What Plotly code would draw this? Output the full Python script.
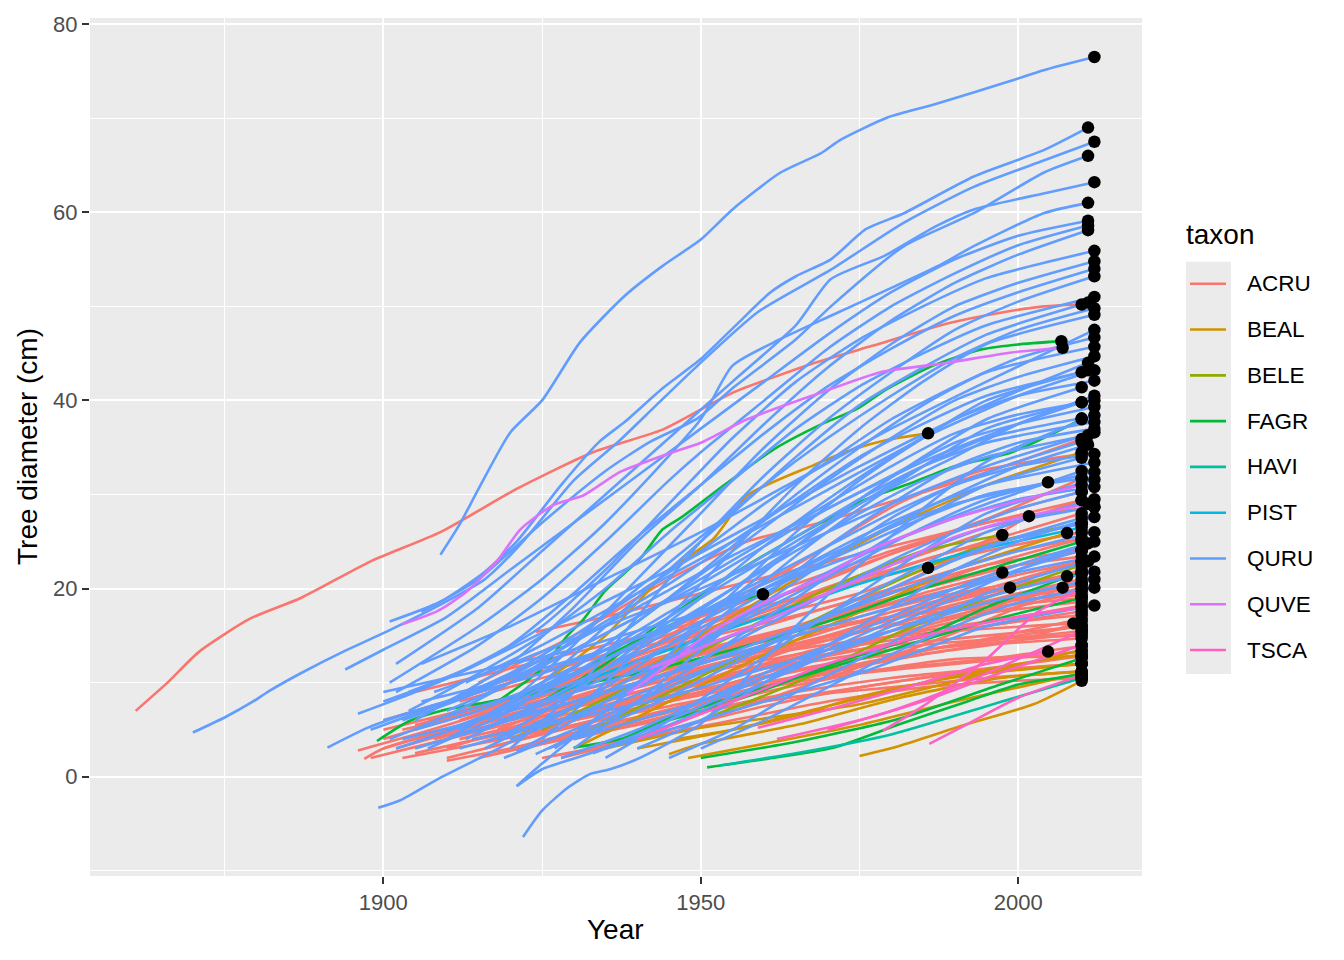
import plotly.graph_objects as go

# ==========================================
# Data: reconstructed diameter tracks, (year, diameter cm) vertices per tree
# ==========================================

taxa = ["ACRU", "BEAL", "BELE", "FAGR", "HAVI", "PIST", "QURU", "QUVE", "TSCA"]

taxon_colors = {
    "ACRU": "#F8766D", "BEAL": "#D39200", "BELE": "#93AA00",
    "FAGR": "#00BA38", "HAVI": "#00C19F", "PIST": "#00B9E3",
    "QURU": "#619CFF", "QUVE": "#DB72FB", "TSCA": "#FF61C3",
}

acru_trees = [
    [(1861, 7.0), (1866, 10.0), (1871, 13.3), (1879, 16.8), (1887, 19.0), (1898, 22.9), (1909, 26.0),
     (1921, 30.6), (1933, 34.5), (1944, 36.9), (1955, 40.8), (1968, 44.0), (1977, 45.8), (1989, 48.2),
     (1997, 49.3), (2004, 50.0), (2010, 50.2)],
    [(1896, 2.8), (1905, 4.5), (1915, 6.5), (1925, 8.5), (1935, 10.5), (1950, 13), (1965, 16), (1980, 19), (1995, 22.5), (2010, 25.3)],
    [(1897, 1.9), (1900, 3), (1910, 5), (1925, 7.5), (1940, 10), (1955, 12.5), (1970, 15), (1985, 17.5), (2000, 20), (2010, 22)],
    [(1900, 3), (1910, 5), (1920, 7), (1935, 9), (1950, 11), (1965, 13), (1980, 14.5), (1995, 16), (2010, 17.6)],
    [(1903, 5), (1915, 7), (1925, 9.5), (1935, 12), (1950, 15.5), (1965, 19), (1980, 22.5), (1995, 26), (2010, 29.4)],
    [(1905, 2.5), (1915, 4), (1930, 6), (1945, 8), (1960, 10), (1975, 12), (1990, 14), (2010, 16.0)],
    [(1908, 4), (1920, 6), (1935, 8.5), (1950, 11.5), (1965, 14.5), (1980, 17.5), (1995, 20), (2010, 22.9)],
    [(1910, 3), (1920, 5), (1935, 7), (1950, 9), (1965, 10.5), (1980, 11.5), (1995, 12.5), (2010, 13.9)],
    [(1912, 6), (1925, 9), (1940, 12.5), (1955, 16), (1970, 19.5), (1985, 23), (2000, 26), (2010, 28)],
    [(1915, 2), (1925, 3.5), (1940, 5.5), (1955, 7.5), (1970, 9), (1985, 10.5), (2000, 11.5), (2010, 12.0)],
    [(1918, 5), (1930, 8), (1945, 11), (1960, 14), (1975, 17), (1990, 19.5), (2010, 21.6)],
    [(1920, 8), (1930, 10.5), (1945, 14), (1960, 17.5), (1975, 21), (1990, 24), (2010, 26.9)],
    [(1922, 3), (1935, 5), (1950, 7), (1965, 8.5), (1980, 9.5), (1995, 10.5), (2010, 11.2)],
    [(1925, 5), (1935, 7), (1950, 10), (1965, 13), (1980, 15.5), (1995, 18), (2010, 20.5)],
    [(1900, 6), (1910, 8), (1925, 11), (1940, 14), (1955, 17.5), (1970, 21), (1985, 25), (2000, 28.5), (2010, 30.3)],
    [(1905, 7), (1920, 10), (1935, 13.5), (1950, 17), (1965, 20.5), (1980, 24), (1995, 27), (2012, 28.7)],
    [(1910, 5), (1925, 7), (1940, 9.5), (1955, 12), (1970, 14.5), (1985, 17), (2000, 19), (2010, 20.5)],
    [(1928, 2), (1940, 4), (1955, 6), (1970, 8), (1985, 9.5), (2000, 10.2), (2010, 10.5)],
    [(1930, 4), (1945, 6.5), (1960, 9), (1975, 11), (1990, 12.5), (2010, 12.8)],
    [(1935, 6), (1945, 8), (1960, 11), (1975, 14), (1990, 16.5), (2010, 19.7)],
    [(1902, 3), (1915, 5.5), (1930, 8), (1945, 10.5), (1960, 13), (1975, 14.5), (1990, 15.5), (2008.7, 16.3)],
    [(1907, 6), (1920, 8.5), (1935, 11), (1950, 13.5), (1965, 16), (1980, 18.5), (1998.7, 20.1)],
    [(1913, 7), (1925, 9), (1940, 11.5), (1955, 14), (1970, 16.5), (1985, 19.5), (1997.5, 21.7)],
    [(1918, 10), (1930, 12), (1945, 14.5), (1960, 17), (1975, 19.5), (1985.8, 22.2)],
    [(1920, 4), (1935, 7), (1950, 11), (1965, 15.5), (1980, 20), (1992, 24), (2001.7, 27.7)],
    [(1925, 2), (1940, 4), (1955, 7), (1970, 10.5), (1985, 14), (2000, 18), (2007, 20.1)],
    [(1930, 6), (1945, 9), (1960, 12.5), (1975, 16), (1990, 19), (2007.7, 21.3)],
    [(1915, 7), (1930, 10.5), (1945, 14.5), (1960, 18.5), (1975, 22.5), (1990, 26), (2010, 31.7)],
    [(1915, 10), (1930, 15), (1945, 21), (1957.3, 25), (1967.7, 26.8), (1978.3, 28.9), (1988.8, 31), (2000, 33.5), (2010, 35.9)],
    [(1920, 6), (1935, 11), (1950, 17), (1965, 22.5), (1981, 29), (1994, 32.5), (2010, 34.3)],
    [(1905, 4), (1920, 6.5), (1935, 9.5), (1950, 12.5), (1965, 16), (1980, 19.5), (1995, 22.5), (2010, 24.1)],
    [(1910, 2), (1925, 4.5), (1940, 7), (1955, 10), (1970, 13), (1985, 16), (2000, 18.5), (2010, 20.1)],
    [(1925, 7), (1940, 10), (1955, 13.5), (1970, 17), (1985, 20), (2000, 22.5), (2010, 23.4)],
    [(1900, 5), (1915, 7.5), (1930, 10), (1945, 12.5), (1960, 15), (1975, 17.5), (1990, 20), (2010, 22.9)],
    [(1932, 3), (1945, 5), (1960, 7.5), (1975, 9.5), (1990, 11), (2010, 12.0)],
    [(1905, 9), (1920, 11.5), (1935, 14), (1950, 16.5), (1965, 19), (1980, 21.5), (1995, 24), (2010, 26.0)],
    [(1912, 4), (1925, 6), (1940, 8.5), (1955, 11), (1970, 13.5), (1985, 15.5), (2000, 17), (2010, 18.2)],
    [(1922, 5), (1935, 7.5), (1950, 10), (1965, 12.5), (1980, 14), (1995, 15), (2010, 16.0)],
    [(1903, 2), (1915, 3.5), (1930, 5.5), (1945, 7.5), (1960, 9.5), (1975, 11), (1990, 12), (2010, 13.3)],
    [(1898, 2), (1910, 4), (1925, 6.5), (1940, 9), (1955, 12), (1970, 14.5), (1985, 17), (2000, 19.5), (2010, 21.0)],
    [(1924, 15.4), (1935, 17), (1950, 19.5), (1965, 22), (1980, 24.5), (1995, 27), (2010, 29.4)],
    [(1910, 1.7), (1920, 3), (1935, 5), (1950, 7), (1965, 9), (1980, 10.5), (1995, 11.5), (2010, 12.8)],
    [(1915, 4), (1928, 7), (1940, 9), (1955, 11), (1970, 12.5), (1985, 14), (2000, 14.8), (2010, 15.0)],
    [(1930, 5), (1945, 7), (1960, 9.5), (1975, 12), (1990, 14), (2010, 15.5)],
    [(1920, 3), (1935, 5.5), (1950, 8), (1965, 10.5), (1980, 12.5), (1995, 14), (2010, 14.7)],
    [(1908, 6), (1920, 8), (1935, 10.5), (1950, 13), (1965, 15.5), (1980, 17), (1995, 18), (2010, 19.0)],
    [(1935, 8), (1950, 11), (1965, 14), (1980, 17), (1995, 19.5), (2010, 21.6)],
    [(1900, 4), (1910, 6), (1925, 9), (1940, 12), (1955, 15), (1970, 18), (1985, 21), (2000, 24), (2010, 25.3)],
    [(1926, 4), (1940, 6), (1955, 8.5), (1970, 11), (1985, 13), (2000, 14.5), (2010, 16.5)],
    [(1927, 6), (1940, 8), (1955, 10), (1970, 12), (1985, 13.5), (2000, 14.5), (2010, 15.2)],
    [(1905, 5.5), (1920, 8), (1935, 10.5), (1950, 13), (1965, 15), (1980, 17), (1995, 18.5), (2010, 19.3)],
    [(1916, 3), (1930, 5.5), (1945, 8), (1960, 10.5), (1975, 12.5), (1990, 14), (2010, 16.8)],
    [(1912, 8), (1925, 10.5), (1940, 13), (1955, 15.5), (1970, 18), (1985, 20.5), (2000, 22.5), (2010, 24.0)],
    [(1933, 7), (1945, 9), (1960, 11.5), (1975, 13.5), (1990, 15.5), (2000, 16.5), (2010, 17.2)],
    [(1918, 7), (1930, 9), (1945, 11.5), (1960, 13.5), (1975, 15.5), (1990, 17), (2010, 18.6)],
]

beal_trees = [
    [(1915, 7), (1925, 10), (1935, 15), (1944.7, 21.8), (1952, 25.3), (1957.3, 29.9), (1967.7, 33.1), (1974, 34.8), (1979.3, 35.8), (1985.8, 36.5)],
    [(1945, 2.4), (1950, 3.5), (1965.7, 5.6), (1981.4, 8.4), (1997.2, 10.5), (2010, 11.2)],
    [(1946, 4), (1955, 5), (1965, 6.5), (1975, 8.5), (1985, 10), (1995, 11), (2010, 12)],
    [(1975, 2.2), (1981.4, 3.3), (1992, 5.6), (2002.4, 7.7), (2010, 10.2)],
    [(1935, 3), (1950, 5.2), (1975, 7.7), (1995, 11), (2010, 13.5)],
    [(1920, 4), (1935, 9), (1950, 15), (1965, 21), (1980, 26.5), (1995, 31), (2010, 34.5)],
    [(1930, 3), (1945, 8), (1960, 13), (1975, 17.5), (1990, 22), (2007.7, 25.9)],
    [(1948, 2), (1960, 3.5), (1975, 5.5), (1990, 8), (2000, 9.5), (2010, 11)],
    [(1940, 3), (1955, 5), (1970, 7.5), (1985, 10), (2000, 12), (2010, 13.0)],
]

bele_trees = [
    [(1925, 5), (1940, 10), (1955, 15), (1970, 20), (1985, 24), (1997.5, 25.7)],
    [(1930, 4), (1945, 9), (1960, 14), (1975, 19), (1990, 23.5), (2000, 25.5), (2010, 27)],
    [(1950, 6), (1965, 10), (1981.4, 15.4), (1995, 19), (2010, 22.5)],
]

fagr_trees = [
    [(1918, 8), (1925, 11.5), (1929, 15), (1931.5, 16.7), (1935, 19.8), (1940.5, 23.2), (1944, 26.3), (1947, 27.6),
     (1953.7, 31), (1961.5, 34.8), (1968.8, 37.4), (1974.6, 39.1), (1979.3, 41.2), (1986.6, 43.7), (1994, 45.4),
     (1999.2, 45.9), (2006.8, 46.3)],
    [(1899, 3.8), (1904, 5.9), (1909, 7), (1916, 7.9), (1925, 9), (1940, 11), (1955, 13.5), (1970, 16.5), (1985, 20), (2000, 23), (2010, 25)],
    [(1951, 1.0), (1960.4, 1.9), (1971, 3.1), (1981.4, 5.6), (1992, 8), (2000, 9.8), (2010, 10.9)],
    [(1950, 2.0), (1965.7, 3.8), (1981.4, 6.2), (1997.2, 9.8), (2010, 12.6)],
    [(1945, 6), (1955, 8), (1970.9, 12), (1986.6, 15.4), (1995, 18), (2010, 21.8)],
    [(1930, 3.1), (1937.8, 4.1), (1945, 6.2), (1951.5, 7.7), (1965, 10.5), (1980, 13.5), (1995, 16.5), (2010, 19)],
    [(1925, 8), (1935, 12), (1945, 17), (1955, 21.5), (1965, 25.5), (1975, 29.2), (1983.5, 31.3), (1990, 33), (1999, 34.5), (2010, 38)],
    [(1920, 8), (1930, 11), (1940, 14.5), (1950, 17.5), (1959.8, 19.4)],
]

havi_trees = [
    [(1953, 1.2), (1965, 2.5), (1980, 4.5), (1995, 7.5), (2000, 8.5), (2010, 10.5)],
]

pist_trees = [
    [(1925, 8), (1935, 11), (1945, 13.5), (1960, 17), (1975, 20.5), (1990, 23.5), (2010, 26.5)],
]

quru_trees = [
    [(1909, 23.6), (1912, 26.8), (1915, 30.6), (1920, 36.6), (1925, 40), (1931, 46.2), (1938, 51.1), (1944, 54.3),
     (1950, 57.1), (1955, 60.3), (1962.5, 64.2), (1969, 66.3), (1972, 67.7), (1979.5, 70.1), (1987, 71.5),
     (1999, 74), (2004, 75.1), (2012, 76.5)],
    [(1901, 16.5), (1909, 18.6), (1916, 21.8), (1921, 25), (1928, 31), (1934, 35.6), (1938, 37.7), (1944, 41.3),
     (1950, 44.4), (1956, 48.3), (1961, 51.5), (1965, 53.2), (1970.5, 55), (1976, 58.2), (1982, 59.9), (1993, 63.8),
     (2004, 66.6), (2011, 69.0)],
    [(1870, 4.7), (1875, 6.3), (1879.5, 8), (1882, 9.1), (1887, 11), (1893.7, 13.3), (1899.5, 15.1), (1909, 18.3),
     (1916, 21), (1922, 25), (1930, 31.5), (1937, 35.6), (1943, 39.5), (1949.5, 43.7), (1959, 49.4), (1970.5, 53.9),
     (1982, 58.9), (1993, 62.7), (2004, 65.5), (2012, 67.5)],
    [(1906, 17.5), (1915, 21), (1925, 27), (1935, 32.5), (1942, 35.6), (1949.5, 38.1), (1955, 41.3), (1965, 46.5),
     (1970.5, 50), (1982, 56.4), (1993, 59.9), (2004, 64.2), (2011, 66.0)],
    [(1902, 12), (1915, 18), (1925, 24), (1935, 30), (1945, 36), (1955, 42), (1965, 48), (1970.5, 52.9),
     (1979, 55.4), (1987, 58.5), (1993, 60.3), (2004, 62), (2012, 63.2)],
    [(1901, 10), (1915, 16), (1925, 21), (1935, 27), (1950, 38), (1955, 43.7), (1962.5, 46.5), (1970.5, 49),
     (1979.5, 51.8), (1987.4, 54.3), (1993, 56.4), (2004, 59.9), (2011, 61.0)],
    [(1894, 11.4), (1900, 13.5), (1910, 17), (1920, 22), (1930, 27), (1940, 32), (1950, 37), (1960, 42), (1970, 47), (1980, 51.5), (1990, 55), (2000, 57.5), (2011, 59.1)],
    [(1902, 9), (1915, 14), (1925, 19), (1935, 25), (1945, 31.5), (1950, 34.5), (1960, 40), (1970, 45.5), (1980, 50), (1990, 53.5), (2000, 56.5), (2011, 58.6)],
    [(1905, 6), (1920, 12), (1930, 18), (1940, 25), (1950, 31), (1960, 37.5), (1970, 43.5), (1980, 48.5), (1990, 52.5), (2000, 55.5), (2011, 58.1)],
    [(1896, 6.7), (1905, 9), (1915, 12), (1925, 16), (1935, 22), (1945, 29), (1955, 36), (1965, 42), (1975, 46.5), (1985, 50), (1995, 53), (2012, 55.9)],
    [(1910, 4), (1920, 8), (1930, 14), (1940, 21), (1950, 28), (1960, 35), (1970, 41), (1980, 46), (1990, 50), (2000, 52.5), (2012, 54.8)],
    [(1900, 8), (1910, 10.5), (1920, 14), (1930, 19.5), (1940, 25.5), (1950, 31), (1960, 36.5), (1970, 41.5), (1980, 45.5), (1990, 49), (2000, 51.5), (2012, 54.0)],
    [(1920, 3), (1930, 9), (1940, 17), (1950, 25), (1960, 32), (1970, 38), (1980, 43), (1990, 47.5), (2000, 50.5), (2012, 53.2)],
    [(1904, 7), (1915, 11), (1925, 15), (1935, 20), (1945, 26), (1955, 31.5), (1965, 37), (1975, 41.5), (1985, 45), (1995, 48), (2012, 51.0)],
    [(1912, 5), (1925, 10), (1935, 16), (1945, 22), (1955, 28), (1965, 34), (1975, 39.5), (1985, 43.5), (1995, 47), (2011, 50.4)],
    [(1901, 4), (1910, 6.5), (1920, 10), (1930, 14.5), (1940, 20), (1950, 25.5), (1960, 31), (1970, 36), (1980, 40.5), (1990, 44.5), (2000, 47.5), (2012, 49.8)],
    [(1925, 4), (1935, 10), (1945, 17), (1955, 24), (1965, 31), (1975, 37), (1985, 42), (1995, 46), (2012, 49.1)],
    [(1898, 5), (1910, 8), (1920, 11), (1930, 15), (1940, 19.5), (1950, 24), (1960, 29), (1970, 33.5), (1980, 38), (1990, 41.5), (2000, 44.5), (2012, 46.7)],
    [(1915, 6), (1925, 9.5), (1935, 14), (1945, 19), (1955, 24.5), (1965, 30), (1975, 35), (1985, 39.5), (1995, 43), (2012, 45.7)],
    [(1907, 3), (1920, 7), (1930, 11.5), (1940, 16.5), (1950, 21.5), (1960, 26.5), (1970, 31.5), (1980, 36), (1990, 40), (2000, 42.5), (2012, 44.7)],
    [(1921, -1), (1925, 1.4), (1935, 7), (1945, 13), (1955, 19.5), (1965, 26), (1975, 31.5), (1985, 36), (1995, 40), (2011, 43.2)],
    [(1903, 6), (1915, 9), (1925, 12.5), (1935, 16.5), (1945, 20.5), (1955, 25), (1965, 29.5), (1975, 34), (1985, 37.5), (1995, 40.5), (2010, 43.0)],
    [(1918, 4), (1930, 9), (1940, 14), (1950, 19), (1960, 24.5), (1970, 29.5), (1980, 34), (1990, 38), (2000, 40.5), (2012, 42.1)],
    [(1899.2, -3.3), (1902.7, -2.5), (1909, -0.1), (1916.4, 2.4), (1925, 5.5), (1935, 9.5), (1945, 14), (1955, 19), (1965, 24.5), (1975, 29.5), (1985, 34), (1995, 38), (2010, 41.4)],
    [(1910, 7), (1920, 10), (1930, 13.5), (1940, 17), (1950, 21), (1960, 25), (1970, 29), (1980, 33), (1990, 36.5), (2000, 38.5), (2012, 40.0)],
    [(1927, 3), (1935, 7), (1945, 12.5), (1955, 18), (1965, 23.5), (1975, 28.5), (1985, 33), (1995, 37), (2010, 39.8)],
    [(1900, 6), (1910, 8), (1920, 10.5), (1930, 13.5), (1940, 17), (1950, 20.5), (1960, 24.5), (1970, 28.5), (1980, 32), (1990, 35.5), (2000, 37.5), (2012, 39.3)],
    [(1922, -6.4), (1925, -3.6), (1929, -1.2), (1932.6, 0.3), (1935.7, 0.8), (1939.4, 1.7), (1944.7, 3.5), (1950, 5.6), (1955, 9), (1965, 16), (1975, 22.5), (1985, 28.5), (1995, 33.5), (2012, 38.4)],
    [(1913, 4), (1925, 8), (1935, 11.5), (1945, 15.5), (1955, 20), (1965, 24.5), (1975, 29), (1985, 33), (1995, 36), (2010, 38.1)],
    [(1905, 5), (1915, 7), (1925, 10), (1935, 13.5), (1945, 17.5), (1955, 21.5), (1965, 25.5), (1975, 29.5), (1985, 33), (1995, 35.5), (2012, 37.7)],
    [(1930, 3), (1940, 8), (1950, 13.5), (1960, 19), (1970, 24.5), (1980, 29), (1990, 33), (2000, 35.5), (2012, 37.0)],
    [(1902, 3), (1915, 6), (1925, 9), (1935, 12.5), (1945, 16), (1955, 20), (1965, 24), (1975, 28), (1985, 31.5), (1995, 34), (2011, 36.3)],
    [(1921, 2.7), (1930, 6), (1940, 10), (1950, 14), (1960, 18.5), (1970, 23), (1980, 27.5), (1990, 31), (2000, 33.5), (2010, 35.6)],
    [(1908, 6), (1920, 8.5), (1930, 11), (1940, 14), (1950, 17.5), (1960, 21), (1970, 24.5), (1980, 28), (1990, 31), (2000, 33), (2012, 34.3)],
    [(1924, 2.4), (1935, 6), (1945, 10), (1955, 14.5), (1965, 19), (1975, 23.5), (1985, 27.5), (1995, 31), (2010, 33.9)],
    [(1891.2, 3.1), (1897.5, 5.2), (1905, 7), (1915, 9), (1925, 11), (1935, 13.5), (1945, 16), (1955, 19), (1965, 22), (1975, 25.5), (1985, 28.5), (1995, 31), (2012, 33.4)],
    [(1916, 3), (1925, 6), (1935, 9), (1945, 12.5), (1955, 16), (1965, 19.5), (1975, 23), (1985, 26.5), (1995, 29.5), (2012, 32.4)],
    [(1906, 8), (1915, 9.5), (1925, 11.5), (1935, 13.5), (1945, 16), (1955, 18.5), (1965, 21.5), (1975, 24.5), (1985, 27.5), (1995, 30), (2010, 31.7)],
    [(1935, 2), (1945, 6), (1955, 10.5), (1965, 15), (1975, 19.5), (1985, 24), (1995, 28), (2012, 31.6)],
    [(1910, 5), (1920, 7.5), (1930, 10), (1940, 13), (1950, 16.5), (1960, 20), (1970, 23.5), (1980, 26.5), (1990, 29), (2004.7, 31.3)],
    [(1900, 9), (1910, 10.5), (1920, 12), (1930, 13.5), (1940, 15.5), (1950, 17.5), (1960, 20), (1970, 22.5), (1980, 25), (1990, 27.5), (2000, 29.5), (2012, 30.8)],
    [(1920, 4), (1930, 6.5), (1940, 9.5), (1950, 12.5), (1960, 16), (1970, 19.5), (1980, 23), (1990, 26), (2000, 28.5), (2010, 30.3)],
    [(1926, 3), (1935, 5.5), (1945, 8.5), (1955, 12), (1965, 15.5), (1975, 19), (1985, 22.5), (1995, 26), (2012, 29.5)],
    [(1903, 4), (1915, 6), (1925, 8), (1935, 10), (1945, 12.5), (1955, 15), (1965, 18), (1975, 21), (1985, 24), (1995, 26.5), (2012, 28.7)],
    [(1940, 3), (1950, 6), (1960, 10), (1970, 14), (1980, 18), (1990, 22), (2000, 25), (2012, 27.6)],
    [(1912, 3), (1925, 5.5), (1935, 7.5), (1945, 10), (1955, 12.5), (1965, 15.5), (1975, 18.5), (1985, 21.5), (1995, 24.5), (2010, 26.9)],
    [(1918, 6), (1930, 8), (1940, 10), (1950, 12), (1960, 14.5), (1970, 17), (1980, 19.5), (1990, 22), (2000, 24), (2012, 26.0)],
    [(1928, 2), (1940, 5), (1950, 8), (1960, 11), (1970, 14), (1980, 17), (1990, 20), (2000, 22.5), (2012, 25.0)],
    [(1921, -1), (1925, 0.8), (1932.6, 2.5), (1940, 4.5), (1950, 7.5), (1960, 10.5), (1970, 13.5), (1980, 16.5), (1990, 19.5), (2000, 22), (2010, 24.1)],
    [(1905, 3), (1915, 5), (1925, 7), (1935, 9), (1945, 11), (1955, 13), (1965, 15), (1975, 17), (1985, 19), (1995, 21), (2012, 23.4)],
    [(1945, 2), (1955, 5), (1965, 9), (1975, 12.5), (1985, 16), (1995, 19.5), (2011, 22.9)],
    [(1930, 4), (1940, 6), (1950, 8), (1960, 10.5), (1970, 13), (1980, 15.5), (1990, 18), (2000, 20), (2012, 21.8)],
    [(1914, 4), (1925, 5.5), (1935, 7), (1945, 8.5), (1955, 10.5), (1965, 12.5), (1975, 14.5), (1985, 16.5), (1995, 18.5), (2012, 21.0)],
    [(1950, 3), (1960, 6), (1970, 9.5), (1980, 13), (1990, 16), (2000, 18.5), (2012, 20.1)],
    [(1935, 3), (1945, 5), (1955, 7), (1965, 9), (1975, 11), (1985, 13.5), (1995, 16), (2012, 18.2)],
    [(1915, 5), (1930, 9), (1945, 14), (1960, 19.5), (1975, 25), (1990, 30), (2000, 33), (2011, 35.3)],
    [(1908, 9), (1920, 12), (1935, 16), (1950, 20), (1965, 24.5), (1980, 29), (1995, 33), (2012, 36.6)],
    [(1922, 5), (1935, 9), (1950, 14.5), (1965, 20), (1980, 25), (1995, 29), (2010, 32.5)],
    [(1904, 9), (1915, 12), (1930, 17), (1945, 22), (1960, 27.5), (1975, 33), (1990, 38), (2000, 41), (2011, 44)],
    [(1917, 6), (1930, 11), (1945, 17), (1960, 23), (1975, 29), (1990, 34), (2000, 37.5), (2012, 40.5)],
    [(1911, 8), (1925, 12.5), (1940, 18), (1955, 23.5), (1970, 28.5), (1985, 33.5), (2000, 37.5), (2010, 39.8)],
    [(1919, 2), (1930, 5), (1945, 9.5), (1960, 14), (1975, 18.5), (1990, 23), (2000, 25.5), (2010, 27.5)],
    [(1933, 2.5), (1945, 5.5), (1960, 10), (1975, 14.5), (1990, 19), (2000, 22), (2011, 24.8)],
    [(1906, 12), (1920, 16), (1935, 21), (1950, 26), (1965, 31.5), (1980, 37), (1995, 42), (2012, 47.5)],
    [(1913, 10), (1925, 14), (1940, 19.5), (1955, 25), (1970, 30.5), (1985, 36), (2000, 40.5), (2012, 43.2)],
]

quve_trees = [
    [(1903, 16.2), (1908.5, 17.6), (1913, 19.6), (1918, 23), (1921.6, 26.3), (1926.8, 28.9), (1931.5, 29.9),
     (1937.3, 32.4), (1944.7, 34.3), (1950, 35.5), (1957.3, 38), (1968.8, 40.8), (1978.3, 43), (1988.8, 44),
     (1999, 45.1), (2007, 45.6)],
    [(1938.4, 8.8), (1945, 12), (1951.5, 15.4), (1960, 18.5), (1970, 21.5), (1976, 23.9), (1990, 27.5), (2010, 31)],
    [(1942, 11.5), (1951, 14), (1960, 16.5), (1970, 19.5), (1980, 22.5), (1990, 25.5), (2000, 27.5), (2011, 29)],
]

tsca_trees = [
    [(1986, 3.5), (1992, 5.6), (2000, 8.4), (2010, 10.8)],
    [(1962, 4), (1976, 6.2), (1986.6, 8.4), (1997, 11), (2010, 14)],
    [(1959, 5.2), (1971, 7.3), (1985, 10), (1995, 12), (2004.7, 13.3)],
    [(1978.7, 4.9), (1985, 7.5), (1995, 12.5), (2003, 17.5), (2010, 20)],
    [(1940, 4), (1955, 8), (1970, 12), (1985, 15), (2000, 17), (2010, 18)],
    [(1970, 5), (1980, 7), (1990, 9.5), (2000, 12.5), (2010, 15.5)],
]

trees_by_taxon = {
    "ACRU": acru_trees, "BEAL": beal_trees, "BELE": bele_trees, "FAGR": fagr_trees,
    "HAVI": havi_trees, "PIST": pist_trees, "QURU": quru_trees, "QUVE": quve_trees,
    "TSCA": tsca_trees,
}

# ==========================================
# Plot
# ==========================================

fig = go.Figure()

end_x, end_y = [], []
for taxon in taxa:
    xs, ys = [], []
    for tree in trees_by_taxon[taxon]:
        xs += [p[0] for p in tree] + [None]
        ys += [p[1] for p in tree] + [None]
        end_x.append(tree[-1][0])
        end_y.append(tree[-1][1])
    fig.add_trace(go.Scatter(
        x=xs, y=ys, mode="lines", name=taxon, showlegend=False,
        line=dict(color=taxon_colors[taxon], width=2.6, shape="spline", smoothing=0.6),
        connectgaps=False, hoverinfo="skip",
    ))

# Final measured diameters
fig.add_trace(go.Scatter(
    x=end_x, y=end_y, mode="markers", showlegend=False,
    marker=dict(color="black", size=12.5), hoverinfo="skip",
))

# ==========================================
# Layout (ggplot2 grey theme look)
# ==========================================

W, H = 1344, 960
L, R, T, B = 90, 1142, 14, 876   # panel edges in pixels


def px_x(p):
    return (p - L) / (R - L)


def px_y(p):
    return (B - p) / (B - T)


font = "Liberation Sans, Arial, sans-serif"

fig.update_layout(
    width=W, height=H,
    margin=dict(l=L, r=W - R, t=T, b=H - B),
    paper_bgcolor="white",
    plot_bgcolor="#EBEBEB",
    font=dict(family=font),
    showlegend=False,
)

axis_common = dict(
    showgrid=True, gridcolor="white", gridwidth=2,
    zeroline=False, showline=False,
    ticks="outside", ticklen=7, tickwidth=2, tickcolor="#333333",
    tickfont=dict(family=font, size=22, color="#4D4D4D"),
)

fig.update_xaxes(
    range=[1853.8, 2019.5], tick0=1900, dtick=50,
    minor=dict(tick0=1875, dtick=50, showgrid=True, gridcolor="white", gridwidth=1, ticks=""),
    **axis_common,
)
fig.update_yaxes(
    range=[-10.55, 80.65], tick0=0, dtick=20,
    minor=dict(tick0=-10, dtick=20, showgrid=True, gridcolor="white", gridwidth=1, ticks=""),
    **axis_common,
)

# Axis titles
fig.add_annotation(text="Year", xref="paper", yref="paper", x=px_x(615), y=px_y(930),
                   xanchor="center", yanchor="middle",
                   showarrow=False, font=dict(family=font, size=28, color="black"))
fig.add_annotation(text="Tree diameter (cm)", xref="paper", yref="paper", x=px_x(27), y=px_y(445),
                   xanchor="center", yanchor="middle",
                   showarrow=False, textangle=-90, font=dict(family=font, size=28, color="black"))

# Legend, ggplot style
fig.add_annotation(text="taxon", xref="paper", yref="paper", x=px_x(1184), y=px_y(232),
                   xanchor="left", yanchor="middle",
                   showarrow=False, font=dict(family=font, size=28, color="black"))
fig.add_shape(type="rect", xref="paper", yref="paper",
              x0=px_x(1186), x1=px_x(1231), y0=px_y(673), y1=px_y(259),
              fillcolor="#EBEBEB", line=dict(width=0), layer="below")
for i, taxon in enumerate(taxa):
    yc = 281 + 46 * i
    fig.add_shape(type="line", xref="paper", yref="paper",
                  x0=px_x(1190), x1=px_x(1226), y0=px_y(yc), y1=px_y(yc),
                  line=dict(color=taxon_colors[taxon], width=2.6))
    fig.add_annotation(text=taxon, xref="paper", yref="paper", x=px_x(1245), y=px_y(yc),
                       xanchor="left", yanchor="middle",
                       showarrow=False, font=dict(family=font, size=22.5, color="black"))

# ==========================================
# Save
# ==========================================

fig.write_html("out.html", config={"displayModeBar": False},
               post_script="document.body.style.margin='0';")
